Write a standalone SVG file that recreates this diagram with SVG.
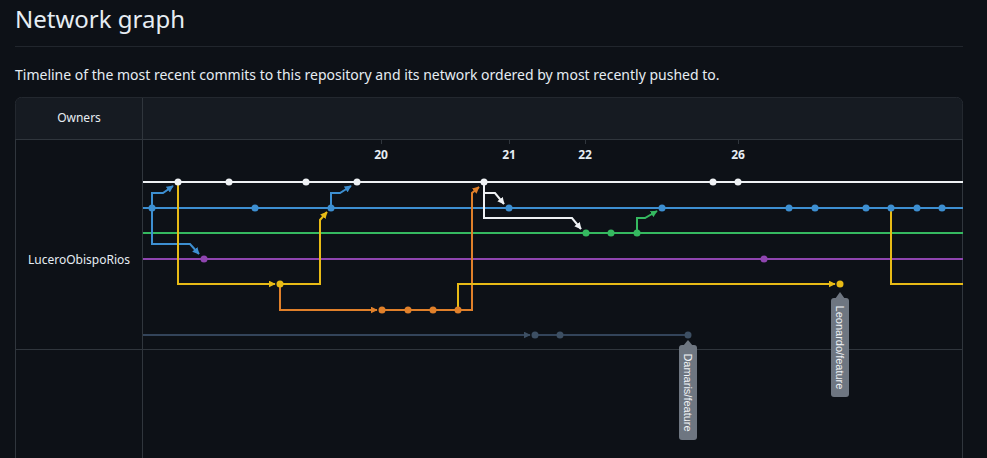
<svg xmlns="http://www.w3.org/2000/svg" width="987" height="458" viewBox="0 0 987 458">
<defs>
<style>
.t{font-family:"Noto Sans","Liberation Sans",sans-serif;fill:#e6edf3}
.lane{fill:none;stroke-width:2}
.w{stroke:#eef1f4}.b{stroke:#3d8fd1}.g{stroke:#35b960}.p{stroke:#8f45b0}.y{stroke:#e8bb16}.o{stroke:#e0802a}.s{stroke:#33445a}
.cw{fill:#eef1f4}.cb{fill:#3d8fd1}.cg{fill:#35b960}.cp{fill:#8f45b0}.cy{fill:#e8bb16}.co{fill:#e0802a}.cs{fill:#3d4f63}
.tag{fill:#6e7681}
.tagt{font-family:"Liberation Sans","Noto Sans",sans-serif;font-size:11px;fill:#f0f3f6}
</style>
<marker id="aw" viewBox="0 0 10 10" refX="9" refY="5" markerWidth="7" markerHeight="7" markerUnits="userSpaceOnUse" orient="auto"><path d="M0,0L10,5L0,10z" fill="#eef1f4"/></marker>
<marker id="ab" viewBox="0 0 10 10" refX="9" refY="5" markerWidth="7" markerHeight="7" markerUnits="userSpaceOnUse" orient="auto"><path d="M0,0L10,5L0,10z" fill="#3d8fd1"/></marker>
<marker id="ag" viewBox="0 0 10 10" refX="9" refY="5" markerWidth="7" markerHeight="7" markerUnits="userSpaceOnUse" orient="auto"><path d="M0,0L10,5L0,10z" fill="#35b960"/></marker>
<marker id="ay" viewBox="0 0 10 10" refX="9" refY="5" markerWidth="7" markerHeight="7" markerUnits="userSpaceOnUse" orient="auto"><path d="M0,0L10,5L0,10z" fill="#e8bb16"/></marker>
<marker id="ao" viewBox="0 0 10 10" refX="9" refY="5" markerWidth="7" markerHeight="7" markerUnits="userSpaceOnUse" orient="auto"><path d="M0,0L10,5L0,10z" fill="#e0802a"/></marker>
<marker id="as" viewBox="0 0 10 10" refX="9" refY="5" markerWidth="7" markerHeight="7" markerUnits="userSpaceOnUse" orient="auto"><path d="M0,0L10,5L0,10z" fill="#3d4f63"/></marker>
</defs>
<rect width="987" height="458" fill="#0d1117"/>
<g id="header">
<text class="t" x="15" y="28" font-size="24">Network graph</text>
<line x1="15" y1="46.5" x2="963" y2="46.5" stroke="#21262d"/>
<text class="t" x="15" y="80" font-size="14">Timeline of the most recent commits to this repository and its network ordered by most recently pushed to.</text>
</g>
<g id="panel">
<rect x="15.5" y="97.5" width="947" height="400" rx="6" fill="#0d1117" stroke="#30363d"/>
<path d="M15.5,139 V103.5 a6,6 0 0 1 6,-6 H956.5 a6,6 0 0 1 6,6 V139 z" fill="#161b22"/>
<line x1="15.5" y1="139.5" x2="962.5" y2="139.5" stroke="#30363d"/>
<line x1="142.5" y1="98" x2="142.5" y2="458" stroke="#30363d"/>
<line x1="15.5" y1="349.5" x2="962.5" y2="349.5" stroke="#30363d"/>
<text class="t" x="79" y="122" font-size="12" text-anchor="middle">Owners</text>
<text class="t" x="79" y="264" font-size="12" text-anchor="middle">LuceroObispoRios</text>
<g stroke="#30363d"><line x1="381.5" y1="140" x2="381.5" y2="144"/><line x1="509.5" y1="140" x2="509.5" y2="144"/><line x1="585.5" y1="140" x2="585.5" y2="144"/><line x1="738.5" y1="140" x2="738.5" y2="144"/></g>
<g class="t" font-size="12" font-weight="bold" text-anchor="middle" fill="#c9d1d9">
<text x="381" y="159">20</text><text x="509" y="159">21</text><text x="585" y="159">22</text><text x="738" y="159">26</text>
</g>
</g>
<g id="connectors">
<line class="lane w" x1="143" y1="182" x2="963" y2="182"/>
<line class="lane b" x1="143" y1="208" x2="963" y2="208"/>
<line class="lane g" x1="143" y1="233" x2="963" y2="233"/>
<line class="lane p" x1="143" y1="259" x2="963" y2="259"/>
<line class="lane s" x1="143" y1="335" x2="530" y2="335" marker-end="url(#as)"/>
<line class="lane s" x1="535" y1="335" x2="688" y2="335"/>
<path class="lane b" d="M152,208 V193 H163 L173,186" marker-end="url(#ab)"/>
<path class="lane b" d="M152,208 V244 H190 L199,254" marker-end="url(#ab)"/>
<path class="lane y" d="M178,182 V284 H275" marker-end="url(#ay)"/>
<path class="lane b" d="M331,208 V193 H340 L351,186" marker-end="url(#ab)"/>
<path class="lane y" d="M280,284 H320 V220 L327,212" marker-end="url(#ay)"/>
<path class="lane o" d="M280,284 V310 H377" marker-end="url(#ao)"/>
<line class="lane o" x1="382" y1="310" x2="458" y2="310"/>
<path class="lane o" d="M458,310 H472 V193 L479,187" marker-end="url(#ao)"/>
<path class="lane y" d="M458,310 V284 H835" marker-end="url(#ay)"/>
<path class="lane w" d="M484,182 V193 H495 L504,204" marker-end="url(#aw)"/>
<path class="lane w" d="M484,182 V218 H572 L581,229" marker-end="url(#aw)"/>
<path class="lane g" d="M637,233 V218 H645 L657,211" marker-end="url(#ag)"/>
<path class="lane y" d="M891,208 V284 H963"/>
</g>
<g id="commits">
<g id="w1"><circle class="cw" cx="178" cy="182" r="3.5"/></g>
<g id="w2"><circle class="cw" cx="229" cy="182" r="3.5"/></g>
<g id="w3"><circle class="cw" cx="306" cy="182" r="3.5"/></g>
<g id="w4"><circle class="cw" cx="357" cy="182" r="3.5"/></g>
<g id="w5"><circle class="cw" cx="484" cy="182" r="3.5"/></g>
<g id="w6"><circle class="cw" cx="713" cy="182" r="3.5"/></g>
<g id="w7"><circle class="cw" cx="738" cy="182" r="3.5"/></g>
<g id="b1"><circle class="cb" cx="152" cy="208" r="3.5"/></g>
<g id="b2"><circle class="cb" cx="255" cy="208" r="3.5"/></g>
<g id="b3"><circle class="cb" cx="331" cy="208" r="3.5"/></g>
<g id="b4"><circle class="cb" cx="509" cy="208" r="3.5"/></g>
<g id="b5"><circle class="cb" cx="662" cy="208" r="3.5"/></g>
<g id="b6"><circle class="cb" cx="789" cy="208" r="3.5"/></g>
<g id="b7"><circle class="cb" cx="815" cy="208" r="3.5"/></g>
<g id="b8"><circle class="cb" cx="866" cy="208" r="3.5"/></g>
<g id="b9"><circle class="cb" cx="891" cy="208" r="3.5"/></g>
<g id="b10"><circle class="cb" cx="917" cy="208" r="3.5"/></g>
<g id="b11"><circle class="cb" cx="942" cy="208" r="3.5"/></g>
<g id="g1"><circle class="cg" cx="586" cy="233" r="3.5"/></g>
<g id="g2"><circle class="cg" cx="611" cy="233" r="3.5"/></g>
<g id="g3"><circle class="cg" cx="637" cy="233" r="3.5"/></g>
<g id="p1"><circle class="cp" cx="204" cy="259" r="3.5"/></g>
<g id="p2"><circle class="cp" cx="764" cy="259" r="3.5"/></g>
<g id="y1"><circle class="cy" cx="280" cy="284" r="3.5"/></g>
<g id="y2"><circle class="cy" cx="840" cy="284" r="3.5"/></g>
<g id="o1"><circle class="co" cx="382" cy="310" r="3.5"/></g>
<g id="o2"><circle class="co" cx="408" cy="310" r="3.5"/></g>
<g id="o3"><circle class="co" cx="433" cy="310" r="3.5"/></g>
<g id="o4"><circle class="co" cx="458" cy="310" r="3.5"/></g>
<g id="s1"><circle class="cs" cx="535" cy="335" r="3.5"/></g>
<g id="s2"><circle class="cs" cx="560" cy="335" r="3.5"/></g>
<g id="s3"><circle class="cs" cx="688" cy="335" r="3.5"/></g>
</g>
<g id="tag-damaris">
<path class="tag" d="M683,346 L688,340 L693,346 z"/>
<rect class="tag" x="679" y="345" width="18" height="95" rx="3"/>
<text class="tagt" transform="translate(688,392.5) rotate(90)" text-anchor="middle" dominant-baseline="central">Damaris/feature</text>
</g>
<g id="tag-leonardo">
<path class="tag" d="M835,299 L840,292 L845,299 z"/>
<rect class="tag" x="831" y="298" width="18" height="99" rx="3"/>
<text class="tagt" transform="translate(840,347.5) rotate(90)" text-anchor="middle" dominant-baseline="central">Leonardo/feature</text>
</g>
</svg>
